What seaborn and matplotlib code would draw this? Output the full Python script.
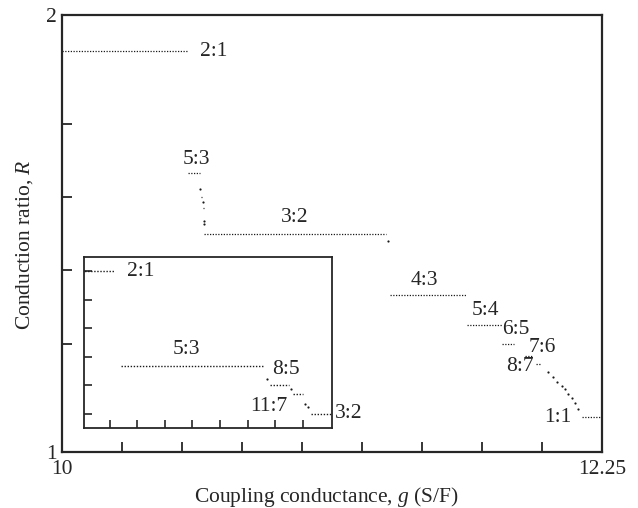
import numpy as np
import pandas as pd
import matplotlib
matplotlib.use('Agg')
import matplotlib.pyplot as plt
import seaborn as sns

# plateaus of the conduction ratio: start g, end g, ratio label, R
seg_start = [10.0, 10.524, 10.578, 10.5866, 10.593, 11.367, 11.686, 11.834, 11.929, 11.975, 12.165]
seg_end = [10.522, 10.576, 10.585, 10.590, 11.352, 11.683, 11.832, 11.885, 11.957, 11.995, 12.25]
seg_name = ['2:1', '5:3', '8:5', '11:7', '3:2', '4:3', '5:4', '6:5', '7:6', '8:7', '1:1']
seg_R = [2.0, 5 / 3, 1.6, 11 / 7, 1.5, 4 / 3, 1.25, 1.2, 7 / 6, 8 / 7, 1.0]

# isolated points between plateaus
pt_g = [10.5770, 10.5858, 10.5910, 10.5921, 11.360,
        12.026, 12.047, 12.064, 12.082, 12.096, 12.110, 12.124, 12.1375, 12.151]
pt_R = [1.622, 1.587, 1.535, 1.526, 1.481,
        1.123, 1.108, 1.096, 1.084, 1.075, 1.062, 1.050, 1.037, 1.020]

# label placement (data coords) for main axes
main_lab = ['2:1', '5:3', '3:2', '4:3', '5:4', '6:5', '7:6', '8:7', '1:1']
main_lab_g = [10.633, 10.561, 10.970, 11.511, 11.764, 11.892, 12.0, 11.908, 12.067]
main_lab_R = [1.998, 1.703, 1.543, 1.371, 1.289, 1.237, 1.189, 1.137, 0.998]

# labels in the inset
ins_lab = ['2:1', '5:3', '8:5', '11:7', '3:2']
ins_lab_g = [10.5262, 10.5477, 10.5840, 10.5779, 10.6019]
ins_lab_R = [2.0, 1.724, 1.654, 1.526, 1.5]

sns.set_style('ticks')
plt.rcParams['font.family'] = ['Liberation Serif', 'DejaVu Serif']
plt.rcParams['mathtext.fontset'] = 'custom'
plt.rcParams['mathtext.it'] = 'Liberation Serif:italic'
plt.rcParams['mathtext.rm'] = 'Liberation Serif'
fs = 15.5

segs = pd.DataFrame({
    'g': seg_start + seg_end,
    'R': seg_R + seg_R,
    'seg': seg_name + seg_name,
})
pts = pd.DataFrame({'g': pt_g, 'R': pt_R})

fig = plt.figure(figsize=(6.38, 5.08), dpi=100)
ax = fig.add_axes([0.0972, 0.1102, 0.8464, 0.8603])
ins = fig.add_axes([0.1321, 0.1575, 0.3883, 0.3365])


def draw(a, lw):
    sns.lineplot(data=segs, x='g', y='R', units='seg', estimator=None,
                 color='0.1', lw=lw, linestyle=(0, (1, 1.2)), ax=a, legend=False)
    sns.scatterplot(data=pts, x='g', y='R', color='0.1', s=2.5,
                    linewidth=0, ax=a, legend=False)


draw(ax, 0.9)
ax.set_xlim(10, 12.25)
ax.set_ylim(0.9036, 2.0975)
ax.set_xticks([10] + list(np.arange(10.25, 12.01, 0.25)) + [12.25])
ax.set_xticklabels(['10'] + [''] * 8 + ['12.25'])
ax.set_yticks([0.9036, 1.2, 1.4, 1.6, 1.8, 2.0975])
ax.set_yticklabels(['1', '', '', '', '', '2'])
ax.tick_params(direction='in', length=7.5, width=1.3, labelsize=fs, pad=4)
ax.tick_params(axis='x', pad=6)
for s in ax.spines.values():
    s.set_linewidth(1.6)
ax.set_xlabel('Coupling conductance, $g$ (S/F)', fontsize=fs)
ax.set_ylabel('Conduction ratio, $R$', fontsize=fs)
ax.xaxis.set_label_coords(0.49, -0.075)
ax.yaxis.set_label_coords(-0.05, 0.475)
for t, g, r in zip(main_lab, main_lab_g, main_lab_R):
    ax.text(g, r, t, fontsize=fs, ha='center', va='center')

draw(ins, 1.0)
ins.set_xlim(10.5107, 10.6007)
ins.set_ylim(1.451, 2.049)
ins.set_xticks(np.arange(10.52, 10.5951, 0.01))
ins.set_yticks(np.arange(1.5, 2.01, 0.1))
ins.set_xticklabels([])
ins.set_yticklabels([])
ins.set_xlabel('')
ins.set_ylabel('')
ins.tick_params(direction='in', length=5.5, width=1.2)
for s in ins.spines.values():
    s.set_linewidth(1.3)
for t, g, r in zip(ins_lab, ins_lab_g, ins_lab_R):
    ha = 'left' if t in ('2:1', '3:2') else 'center'
    ins.text(g, r, t, fontsize=fs, ha=ha, va='center', clip_on=False)

fig.savefig('out.png', dpi=100)
